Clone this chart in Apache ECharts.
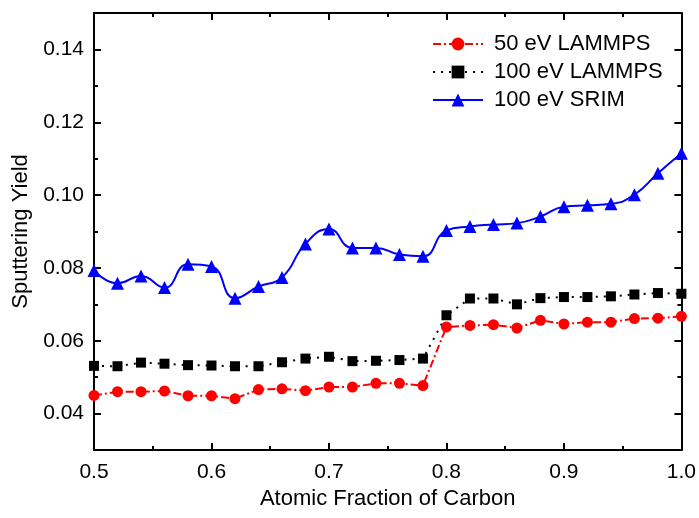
<!DOCTYPE html>
<html>
<head>
<meta charset="utf-8">
<script src="https://cdn.jsdelivr.net/npm/echarts@6/dist/echarts.min.js"></script>
<style>html,body{margin:0;padding:0;background:#fff;}#c{width:699px;height:518px;}</style>
</head>
<body>
<div id="c"></div>
<script>
const xValues = [0.50,0.52,0.54,0.56,0.58,0.60,0.62,0.64,0.66,0.68,0.70,0.72,0.74,0.76,0.78,0.80,0.82,0.84,0.86,0.88,0.90,0.92,0.94,0.96,0.98,1.00];
const lammps50 = [0.0450,0.0460,0.0460,0.0462,0.0449,0.0449,0.0441,0.0466,0.0468,0.0463,0.0473,0.0473,0.0483,0.0483,0.0477,0.0638,0.0642,0.0644,0.0635,0.0656,0.0646,0.0651,0.0651,0.0661,0.0662,0.0667];
const lammps100 = [0.0531,0.0530,0.0540,0.0537,0.0533,0.0532,0.0530,0.0530,0.0541,0.0551,0.0556,0.0544,0.0545,0.0547,0.0551,0.0670,0.0716,0.0716,0.0700,0.0717,0.0720,0.0720,0.0722,0.0727,0.0731,0.0729];
const srim100 = [0.0793,0.0758,0.0778,0.0746,0.0810,0.0804,0.0717,0.0749,0.0774,0.0866,0.0907,0.0855,0.0855,0.0837,0.0832,0.0903,0.0914,0.0919,0.0923,0.0941,0.0968,0.0972,0.0976,0.1001,0.1060,0.1115];
const yMajorTicks = [0.04,0.06,0.08,0.10,0.12,0.14];
const yMinorTicks = [0.05,0.07,0.09,0.11,0.13];
const seriesNames = ['50 eV LAMMPS','100 eV LAMMPS','100 eV SRIM'];

const FONT = '"Liberation Sans", Arial, sans-serif';
const pair = ys => xValues.map((x,i)=>[x, ys[i]]);

const yBase = {type:'value', min:0.03, max:0.15, splitLine:{show:false}};
function yAx(pos, ticks, len, labels, line){
  return Object.assign({}, yBase, {
    position:pos,
    axisLine:{show:line, lineStyle:{color:'#000', width:2}},
    axisTick:{show:true, inside:true, length:len, customValues:ticks, lineStyle:{color:'#000', width:2}},
    axisLabel:{show:labels, customValues:ticks, margin:10, color:'#000', fontSize:21, fontFamily:FONT,
      formatter:v=>v.toFixed(2)},
  });
}
const yAxes = [yAx('left', yMajorTicks, 7, true, true), yAx('left', yMinorTicks, 4, false, false),
  yAx('right', yMajorTicks, 7, false, true), yAx('right', yMinorTicks, 4, false, false)];
yAxes[0].name = 'Sputtering Yield';
yAxes[0].nameLocation = 'middle';
yAxes[0].nameGap = 54;
yAxes[0].nameTextStyle = {color:'#000', fontSize:22, fontFamily:FONT};

function xAx(pos, labels){
  return {type:'value', min:0.5, max:1.0, interval:0.1, position:pos,
    splitLine:{show:false},
    axisLine:{show:true, onZero:false, lineStyle:{color:'#000', width:2}},
    axisTick:{show:true, inside:true, length:7, lineStyle:{color:'#000', width:2}},
    minorTick:{show:true, splitNumber:2, length:4, lineStyle:{color:'#000', width:2}},
    axisLabel:{show:labels, margin:12, color:'#000', fontSize:21, fontFamily:FONT, formatter:v=>v.toFixed(1)},
  };
}
const xAxes = [xAx('bottom', true), xAx('top', false)];
xAxes[0].name = 'Atomic Fraction of Carbon';
xAxes[0].nameLocation = 'middle';
xAxes[0].nameGap = 38;
xAxes[0].nameTextStyle = {color:'#000', fontSize:22, fontFamily:FONT};

const chart = echarts.init(document.getElementById('c'), null, {renderer:'canvas'});
chart.setOption({
  backgroundColor:'#fff',
  animation:false,
  grid:{left:94, right:17, top:13, bottom:68, containLabel:false},
  xAxis:xAxes,
  yAxis:yAxes,
  legend:{
    orient:'vertical', left:427, top:28, itemWidth:50, itemHeight:16, itemGap:6,
    textStyle:{color:'#000', fontSize:22, fontFamily:FONT, padding:[0,0,0,6]},
    data:seriesNames
  },
  series:[
    {name:seriesNames[0], type:'line', data:pair(lammps50), symbol:'circle', symbolSize:11,
      itemStyle:{color:'#ff0000'}, lineStyle:{color:'#ff0000', width:2, type:[8,3,2,3]}, z:3},
    {name:seriesNames[1], type:'line', data:pair(lammps100), symbol:'rect', symbolSize:10,
      itemStyle:{color:'#000'}, lineStyle:{color:'#000', width:2, type:[2,6]}, z:2},
    {name:seriesNames[2], type:'line', data:pair(srim100), symbol:'triangle', symbolSize:13, smooth:0.5,
      itemStyle:{color:'#0000ff'}, lineStyle:{color:'#0000ff', width:2, type:'solid'}, z:4},
  ]
});
</script>
</body>
</html>
